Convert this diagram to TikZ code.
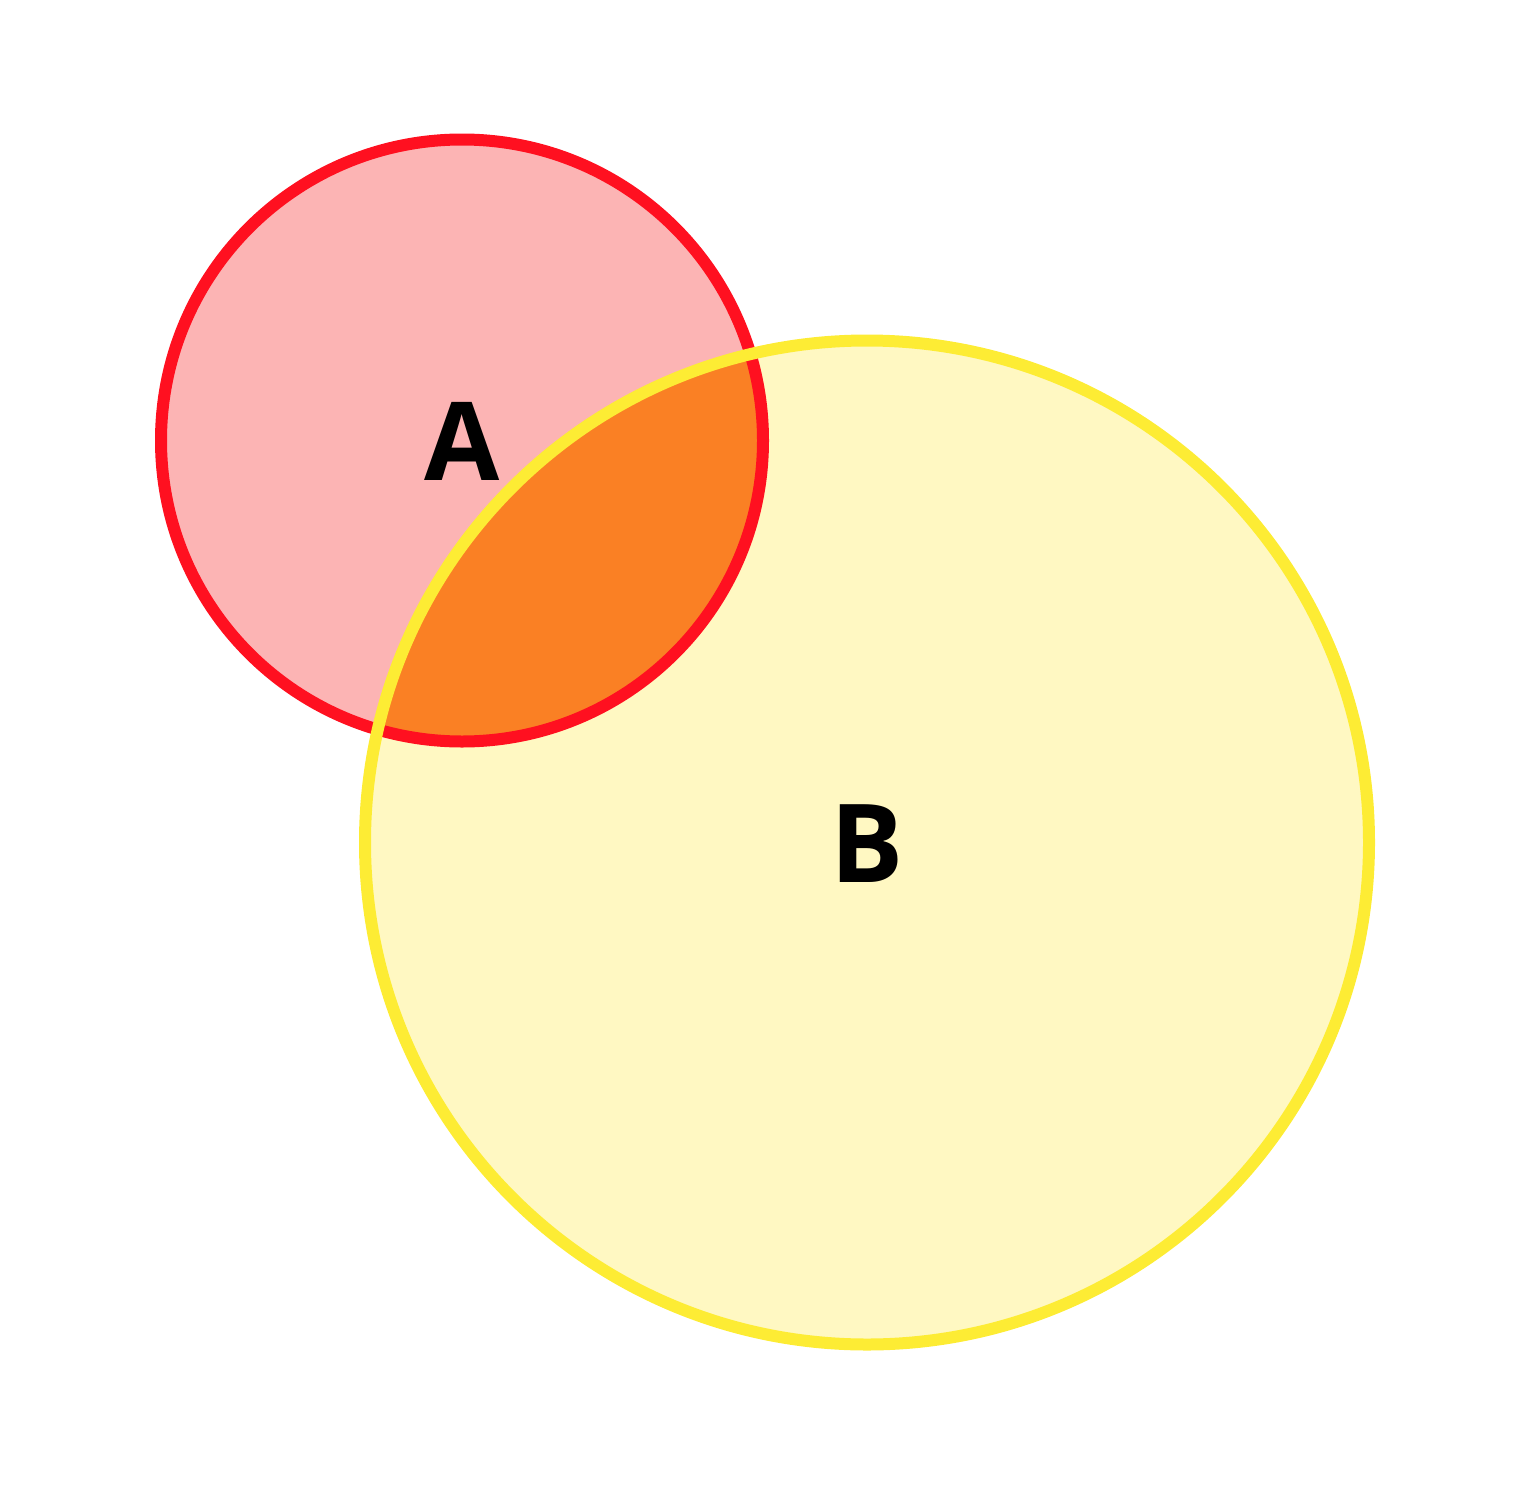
\documentclass[tikz,border=0pt]{standalone}
\usepackage{fontspec}
\setmainfont{Open Sans}
\definecolor{redline}{RGB}{255,16,32}
\definecolor{pinkfill}{RGB}{252,180,180}
\definecolor{yelline}{RGB}{253,236,52}
\definecolor{yelfill}{RGB}{255,248,194}
\definecolor{orangefill}{RGB}{250,128,36}
\begin{document}
\begin{tikzpicture}[x=1pt,y=-1pt,
  lbl/.style={font=\fontsize{109}{109}\selectfont\bfseries, inner sep=0pt, text=black}]
\useasboundingbox (0,0) rectangle (1534,1488);
\coordinate (ca) at (462,440.5);
\coordinate (cb) at (867,842.5);
% fills
\fill[pinkfill] (ca) circle[radius=301];
\fill[yelfill] (cb) circle[radius=502];
\begin{scope}
  \clip (ca) circle[radius=301];
  \fill[orangefill] (cb) circle[radius=502];
\end{scope}
% outlines
\draw[redline, line width=12] (ca) circle[radius=301];
\draw[yelline, line width=12] (cb) circle[radius=502];
% labels
\node[lbl] (A) at (462.5,441) {A};
\node[lbl] (B) at (867.5,844) {B};
\end{tikzpicture}
\end{document}
